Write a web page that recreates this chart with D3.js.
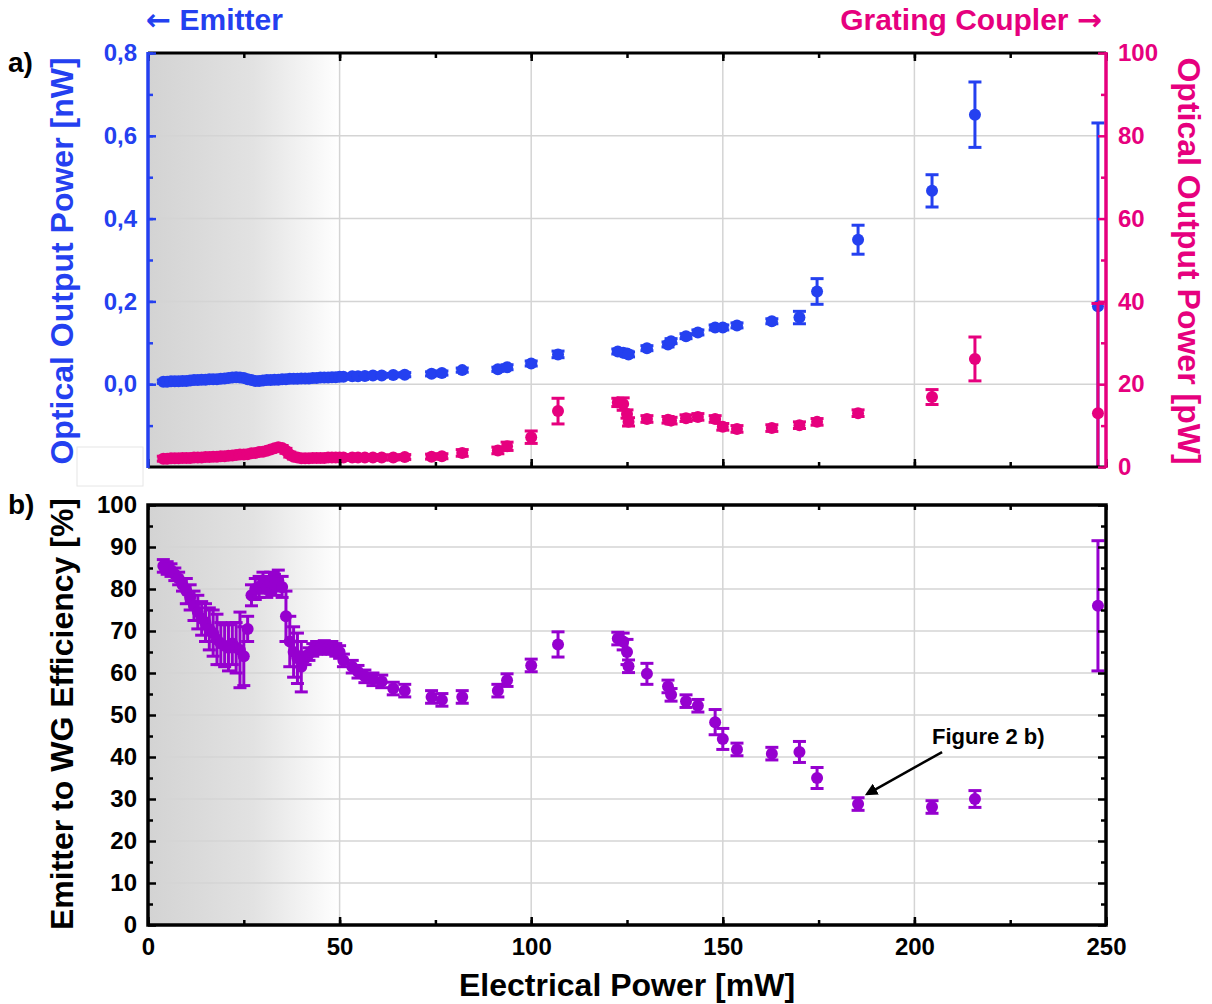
<!DOCTYPE html>
<html>
<head>
<meta charset="utf-8">
<script src="https://cdn.jsdelivr.net/npm/d3@7"></script>
<style>
  body { margin: 0; background: #fff; }
  text { font-family: "Liberation Sans", Arial, sans-serif; font-weight: bold; }
</style>
</head>
<body>
<div id="chart"></div>
<script>
// electrical power [mW], shared by all three series
var power = [4,5,6,7,8,9,10,11,12,13,14,15,16,17,18,19,20,21,22,23,24,25,26,27,28,29,30,
  31,32,33,34,35,36,37,38,39,40,41,42,43,44,45,46,47,48,49,50,
  51,53.3,54.8,56.6,58.7,61,64,67,74,76.7,82,91.3,93.7,100,107,122.6,124,125,125.4,
  130.2,135.7,136.5,140.4,143.5,148,150,153.7,162.8,170,174.6,185.3,204.6,215.8,247.9];

// emitter optical power [nW]
var emitter = [.006,.006,.007,.007,.007,.008,.008,.009,.010,.010,.011,.011,.012,.012,.012,.013,.014,.015,.016,.017,.016,.015,.012,.010,.008,.008,.009,
  .010,.010,.011,.011,.012,.012,.013,.013,.013,.014,.014,.014,.015,.015,.016,.016,.016,.017,.017,.018,
  .018,.019,.019,.020,.021,.021,.022,.023,.025,.027,.034,.036,.041,.050,.072,.079,.076,.074,.072,
  .087,.096,.104,.116,.125,.137,.137,.142,.152,.161,.224,.349,.467,.651,.188];
var emitterErr = [.004,.004,.004,.004,.004,.004,.004,.004,.004,.004,.004,.004,.004,.004,.004,.004,.004,.004,.004,.004,.004,.004,.004,.004,.004,.004,.004,
  .004,.004,.004,.004,.004,.004,.004,.004,.004,.004,.004,.004,.004,.004,.004,.004,.004,.004,.004,.004,
  .004,.004,.004,.004,.004,.004,.004,.005,.005,.005,.005,.005,.006,.006,.008,.006,.006,.006,.006,
  .006,.006,.006,.006,.006,.006,.006,.006,.006,.015,.031,.035,.039,.079,.443];

// grating coupler optical power [pW]
var grating = [2.0,2.0,2.1,2.1,2.1,2.2,2.2,2.2,2.3,2.3,2.3,2.4,2.4,2.5,2.5,2.6,2.6,2.7,2.8,2.9,3.0,3.0,3.1,3.3,3.4,3.6,3.7,
  3.9,4.2,4.5,4.8,4.6,3.9,3.0,2.5,2.3,2.1,2.1,2.1,2.2,2.2,2.2,2.2,2.3,2.3,2.3,2.3,
  2.3,2.3,2.3,2.3,2.3,2.3,2.3,2.4,2.5,2.6,3.4,4.0,5.0,7.2,13.5,15.6,15.2,12.8,10.9,
  11.6,11.4,11.2,11.8,12.1,11.6,9.7,9.2,9.4,10.1,10.9,13.0,16.9,26.1,13.0];
var gratingErr = [.6,.6,.6,.6,.6,.6,.6,.6,.6,.6,.6,.6,.6,.6,.6,.6,.6,.6,.6,.6,.6,.6,.6,.6,.6,.6,.6,
  .6,.6,.6,.6,.6,.6,.6,.6,.6,.6,.6,.6,.6,.6,.6,.6,.6,.6,.6,.6,
  .6,.6,.6,.6,.6,.6,.6,.6,.6,.6,.8,.8,1,1.5,3.1,1,1.5,1,1,
  .8,.8,.8,.8,.8,.8,.8,.8,.8,.8,.8,.8,1.8,5.3,26.5];

// emitter to WG efficiency [%]
var efficiency = [85.5,85,84.5,83.5,82.5,81,79.5,78,76,74.5,73,72,70.5,69.5,68,67,66.5,66,67,66,65.5,64,70.5,78.5,80,80.5,81.5,
  80.5,81.5,81,82,80.5,73.5,67.5,65,63.5,61.5,63.5,64.5,65.5,66,66,66.2,66,66,65.5,65,
  63,61.5,60.3,59.2,58.5,58,56.3,55.8,54.3,53.6,54.3,55.8,58.3,61.8,66.8,68.2,67.5,65,61.6,
  59.8,56.8,54.8,53.3,52.2,48.3,44.3,41.8,40.8,41.2,35,28.8,28.1,30,76];
var efficiencyErr = [1.5,1.5,1.5,1.5,1.5,1.5,3,3,3.5,4,4,4.5,5,5.5,6,5,5,5.5,5,6,9,7,3,2.5,2.5,2.5,2.5,
  2.5,2.5,2.5,2.5,2.5,6,6,6,6,6,1.5,1.5,1.5,1.5,1.5,1.5,1.5,1.5,1.5,1.5,
  1.5,1.5,1.5,1.5,1.5,1.5,1.5,1.5,1.5,1.5,1.5,1.5,1.5,1.5,3,1.5,2,3,1.5,
  2.5,1.5,1.5,1.5,1.5,3,2.5,1.5,1.5,2.5,2.5,1.5,1.5,2,15.5];

var xTicks = [0, 50, 100, 150, 200, 250];
var emitterTicks = [0, 0.2, 0.4, 0.6, 0.8];
var gratingTicks = [0, 20, 40, 60, 80, 100];
var efficiencyTicks = [0,10,20,30,40,50,60,70,80,90,100];

var blue = "#2440f0", pink = "#e6007e", purple = "#9600cf";
var grid = "#d4d4d4";

var width = 1212, height = 1004;
var left = 148, right = 1106;
var topA = 53, botA = 467, topB = 505, botB = 925;

var svg = d3.select("#chart").append("svg")
  .attr("width", width)
  .attr("height", height);

var x = d3.scaleLinear().domain([0, 250]).range([left, right]);
var yEm = d3.scaleLinear().domain([-0.2, 0.8]).range([botA, topA]);
var yGc = d3.scaleLinear().domain([0, 100]).range([botA, topA]);
var yEff = d3.scaleLinear().domain([0, 100]).range([botB, topB]);

var defs = svg.append("defs");
var grad = defs.append("linearGradient")
  .attr("id", "shade")
  .attr("gradientUnits", "userSpaceOnUse")
  .attr("x1", x(0)).attr("x2", x(50)).attr("y1", 0).attr("y2", 0);
grad.append("stop").attr("offset", 0).attr("stop-color", "#d3d3d3");
grad.append("stop").attr("offset", 0.55).attr("stop-color", "#e2e2e2");
grad.append("stop").attr("offset", 1).attr("stop-color", "#ffffff");

defs.append("clipPath").attr("id", "clipA")
  .append("rect").attr("x", left).attr("y", topA).attr("width", right - left).attr("height", botA - topA);
defs.append("clipPath").attr("id", "clipB")
  .append("rect").attr("x", left).attr("y", topB).attr("width", right - left).attr("height", botB - topB);

function panelBackground(y0, y1, yScale, ticks) {
  svg.append("rect")
    .attr("x", x(0)).attr("y", y0)
    .attr("width", x(50) - x(0)).attr("height", y1 - y0)
    .attr("fill", "url(#shade)");
  svg.append("g").selectAll("line").data(ticks).join("line")
    .attr("x1", left).attr("x2", right)
    .attr("y1", d => yScale(d)).attr("y2", d => yScale(d))
    .attr("stroke", grid).attr("stroke-width", 1.5);
  svg.append("g").selectAll("line").data([50, 100, 150, 200]).join("line")
    .attr("x1", d => x(d)).attr("x2", d => x(d))
    .attr("y1", y0).attr("y2", y1)
    .attr("stroke", grid).attr("stroke-width", 1.5);
}

panelBackground(topA, botA, yEm, [0.6, 0.4, 0.2, 0]);
panelBackground(topB, botB, yEff, efficiencyTicks.slice(1, -1));

// error bar + marker series
function drawSeries(clip, yScale, vals, errs, color) {
  var g = svg.append("g").attr("clip-path", "url(#" + clip + ")");
  var pts = power.map((p, i) => ({p: p, v: vals[i], e: errs[i]}));
  var bars = g.selectAll("g.pt").data(pts).join("g").attr("class", "pt");
  bars.append("line")
    .attr("x1", d => x(d.p)).attr("x2", d => x(d.p))
    .attr("y1", d => yScale(d.v - d.e)).attr("y2", d => yScale(d.v + d.e))
    .attr("stroke", color).attr("stroke-width", 3);
  bars.selectAll("line.cap").data(d => [d.v - d.e, d.v + d.e].map(v => ({p: d.p, v: v}))).join("line")
    .attr("class", "cap")
    .attr("x1", d => x(d.p) - 6.5).attr("x2", d => x(d.p) + 6.5)
    .attr("y1", d => yScale(d.v)).attr("y2", d => yScale(d.v))
    .attr("stroke", color).attr("stroke-width", 3);
  bars.append("circle")
    .attr("cx", d => x(d.p)).attr("cy", d => yScale(d.v))
    .attr("r", 6)
    .attr("fill", color);
}

drawSeries("clipA", yEm, emitter, emitterErr, blue);
drawSeries("clipA", yGc, grating, gratingErr, pink);
drawSeries("clipB", yEff, efficiency, efficiencyErr, purple);

// frames and ticks
function styleAxis(g, color) {
  g.select(".domain").remove();
  g.selectAll("line").attr("stroke", color).attr("stroke-width", 2.5);
  g.selectAll("text")
    .attr("fill", color)
    .style("font-size", "24px")
    .style("font-weight", "bold");
}

var minorX = d3.range(0, 251, 25);

// panel a
svg.append("g").attr("transform", "translate(0," + topA + ")")
  .call(d3.axisTop(x).tickValues(minorX).tickSize(-5).tickFormat(""))
  .call(g => styleAxis(g, "#000"));
svg.append("g").attr("transform", "translate(0," + topA + ")")
  .call(d3.axisTop(x).tickValues(xTicks).tickSize(-8).tickFormat(""))
  .call(g => styleAxis(g, "#000"));
svg.append("g").attr("transform", "translate(0," + botA + ")")
  .call(d3.axisBottom(x).tickValues(minorX).tickSize(-5).tickFormat(""))
  .call(g => styleAxis(g, "#000"));
svg.append("g").attr("transform", "translate(0," + botA + ")")
  .call(d3.axisBottom(x).tickValues(xTicks).tickSize(-8).tickFormat(""))
  .call(g => styleAxis(g, "#000"));
svg.append("line").attr("x1", left).attr("x2", right).attr("y1", topA).attr("y2", topA)
  .attr("stroke", "#000").attr("stroke-width", 3);
svg.append("line").attr("x1", left).attr("x2", right).attr("y1", botA).attr("y2", botA)
  .attr("stroke", "#000").attr("stroke-width", 3);

svg.append("g").attr("transform", "translate(" + left + ",0)")
  .call(d3.axisLeft(yEm).tickValues(d3.range(-0.1, 0.81, 0.1)).tickSize(-5).tickFormat(""))
  .call(g => styleAxis(g, blue));
svg.append("g").attr("transform", "translate(" + left + ",0)")
  .call(d3.axisLeft(yEm).tickValues(emitterTicks).tickSize(-8).tickPadding(11)
    .tickFormat(d => d3.format(".1f")(d).replace(".", ",")))
  .call(g => styleAxis(g, blue));
svg.append("line").attr("x1", left).attr("x2", left).attr("y1", topA - 1).attr("y2", botA + 1)
  .attr("stroke", blue).attr("stroke-width", 3.5);

svg.append("g").attr("transform", "translate(" + right + ",0)")
  .call(d3.axisRight(yGc).tickValues(d3.range(10, 100, 20)).tickSize(-5).tickFormat(""))
  .call(g => styleAxis(g, pink));
svg.append("g").attr("transform", "translate(" + right + ",0)")
  .call(d3.axisRight(yGc).tickValues(gratingTicks).tickSize(-8).tickPadding(12))
  .call(g => styleAxis(g, pink));
svg.append("line").attr("x1", right).attr("x2", right).attr("y1", topA - 1).attr("y2", botA + 1)
  .attr("stroke", pink).attr("stroke-width", 3.5);

// panel b
svg.append("g").attr("transform", "translate(0," + topB + ")")
  .call(d3.axisTop(x).tickValues(minorX).tickSize(-5).tickFormat(""))
  .call(g => styleAxis(g, "#000"));
svg.append("g").attr("transform", "translate(0," + botB + ")")
  .call(d3.axisBottom(x).tickValues(minorX).tickSize(-5).tickFormat(""))
  .call(g => styleAxis(g, "#000"));
svg.append("g").attr("transform", "translate(0," + botB + ")")
  .call(d3.axisBottom(x).tickValues(xTicks).tickSize(-8).tickPadding(13))
  .call(g => styleAxis(g, "#000"));
svg.append("g").attr("transform", "translate(" + left + ",0)")
  .call(d3.axisLeft(yEff).tickValues(d3.range(5, 100, 10)).tickSize(-5).tickFormat(""))
  .call(g => styleAxis(g, "#000"));
svg.append("g").attr("transform", "translate(" + left + ",0)")
  .call(d3.axisLeft(yEff).tickValues(efficiencyTicks).tickSize(-8).tickPadding(11))
  .call(g => styleAxis(g, "#000"));
svg.append("g").attr("transform", "translate(" + right + ",0)")
  .call(d3.axisRight(yEff).tickValues(d3.range(5, 100, 10)).tickSize(-5).tickFormat(""))
  .call(g => styleAxis(g, "#000"));
svg.append("g").attr("transform", "translate(" + right + ",0)")
  .call(d3.axisRight(yEff).tickValues(efficiencyTicks).tickSize(-8).tickFormat(""))
  .call(g => styleAxis(g, "#000"));
svg.append("rect").attr("x", left).attr("y", topB).attr("width", right - left).attr("height", botB - topB)
  .attr("fill", "none").attr("stroke", "#000").attr("stroke-width", 3.5);

// labels
svg.append("rect").attr("x", 77).attr("y", 447).attr("width", 66).attr("height", 39)
  .attr("fill", "#fff").attr("stroke", "#e6e6e6").attr("stroke-width", 1);

svg.append("text").attr("transform", "translate(73,261) rotate(-90)")
  .attr("text-anchor", "middle").attr("fill", blue).style("font-size", "32px")
  .text("Optical Output Power [nW]");
svg.append("text").attr("transform", "translate(1178,261) rotate(90)")
  .attr("text-anchor", "middle").attr("fill", pink).style("font-size", "32px")
  .text("Optical Output Power [pW]");
svg.append("text").attr("transform", "translate(73,714) rotate(-90)")
  .attr("text-anchor", "middle").attr("fill", "#000").style("font-size", "32px")
  .text("Emitter to WG Efficiency [%]");
svg.append("text").attr("x", 627).attr("y", 996)
  .attr("text-anchor", "middle").attr("fill", "#000").style("font-size", "32px")
  .text("Electrical Power [mW]");

var emTitle = svg.append("text").attr("x", 146).attr("y", 30).attr("fill", blue).style("font-size", "30px");
emTitle.append("tspan").style("font-family", "DejaVu Sans").text("\u2190");
emTitle.append("tspan").text(" Emitter");
var gcTitle = svg.append("text").attr("x", 1102).attr("y", 30).attr("text-anchor", "end").attr("fill", pink).style("font-size", "30px");
gcTitle.append("tspan").text("Grating Coupler ");
gcTitle.append("tspan").style("font-family", "DejaVu Sans").text("\u2192");

svg.append("text").attr("x", 8).attr("y", 72).attr("fill", "#000").style("font-size", "28px").text("a)");
svg.append("text").attr("x", 8).attr("y", 514).attr("fill", "#000").style("font-size", "28px").text("b)");

// annotation pointing at the 185 mW point
var noteText = "Figure 2 b)";
var notePower = 185.3, noteValue = 28.8;
svg.append("defs").append("marker")
  .attr("id", "arrow").attr("viewBox", "0 0 10 10")
  .attr("refX", 8).attr("refY", 5)
  .attr("markerWidth", 5).attr("markerHeight", 5)
  .attr("orient", "auto")
  .append("path").attr("d", "M0,0 L10,5 L0,10 z").attr("fill", "#000");
svg.append("line")
  .attr("x1", x(notePower) + 84).attr("y1", yEff(noteValue) - 52)
  .attr("x2", x(notePower) + 9).attr("y2", yEff(noteValue) - 10)
  .attr("stroke", "#000").attr("stroke-width", 2.5)
  .attr("marker-end", "url(#arrow)");
svg.append("text").attr("x", x(notePower) + 74).attr("y", yEff(noteValue) - 60)
  .attr("fill", "#000").style("font-size", "22px")
  .text(noteText);
</script>
</body>
</html>
